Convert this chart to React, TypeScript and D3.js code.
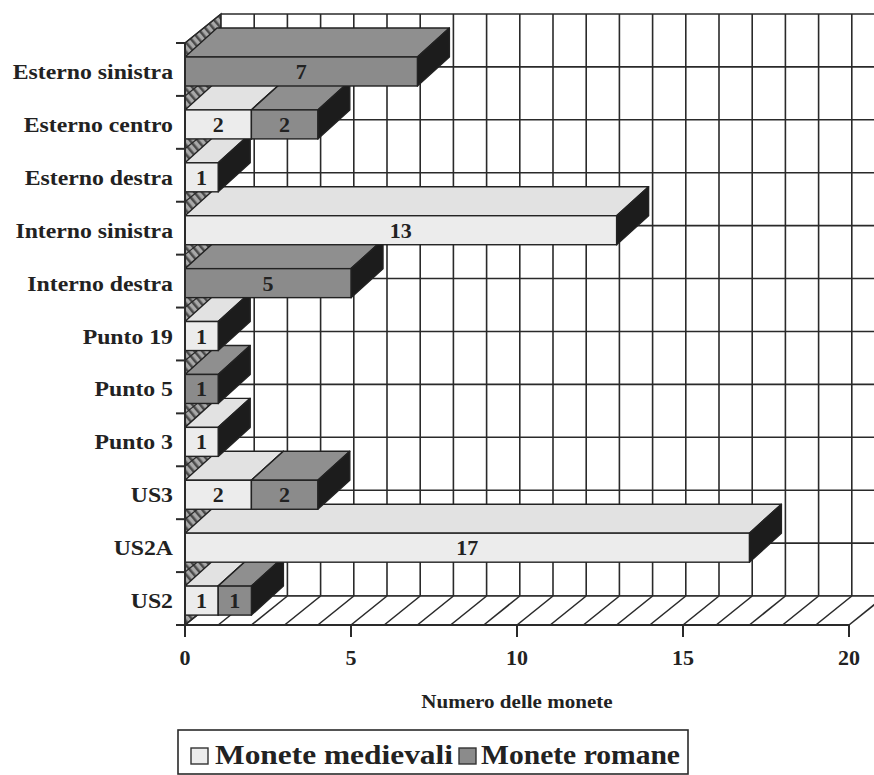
import { useEffect, useRef } from 'react';
import * as d3 from 'd3';

// categories top -> bottom, as in the picture
const categories = [
  'Esterno sinistra',
  'Esterno centro',
  'Esterno destra',
  'Interno sinistra',
  'Interno destra',
  'Punto 19',
  'Punto 5',
  'Punto 3',
  'US3',
  'US2A',
  'US2',
];
const medievali = [0, 2, 1, 13, 0, 1, 0, 1, 2, 17, 1];
const romane = [7, 2, 0, 0, 5, 0, 1, 0, 2, 0, 1];
const xTicks = [0, 5, 10, 15, 20];
const seriesNames = ['Monete medievali', 'Monete romane'];
const axisTitle = 'Numero delle monete';

const FONT = '"Liberation Serif", "Times New Roman", serif';

export default function App() {
  const svgRef = useRef<SVGSVGElement>(null);

  useEffect(() => {
    if (!svgRef.current) return;
    const width = 874;
    const height = 775;

    const svg = d3.select(svgRef.current);
    svg.selectAll('*').remove();
    svg.attr('width', width).attr('height', height).attr('viewBox', `0 0 ${width} ${height}`);

    const x = d3.scaleLinear().domain([0, 20]).range([185, 849]);
    const y = d3.scaleBand<string>().domain(categories).range([43, 625]).padding(0);
    const floorY = 625;
    const topY = 43;
    const wall = { dx: 36, dy: 29 };
    const bar = { dx: 32, dy: 29, off: 14, h: 29 };

    const fills = {
      med: { front: '#ececec', top: '#e2e2e2', side: '#1c1c1c' },
      rom: { front: '#8b8b8b', top: '#8f8f8f', side: '#1c1c1c' },
    };

    const defs = svg.append('defs');
    const hatch = defs
      .append('pattern')
      .attr('id', 'wallHatch')
      .attr('patternUnits', 'userSpaceOnUse')
      .attr('width', 6)
      .attr('height', 6)
      .attr('patternTransform', 'rotate(-40)');
    hatch.append('rect').attr('width', 6).attr('height', 6).attr('fill', '#a8a8a8');
    hatch.append('rect').attr('width', 2.5).attr('height', 6).attr('fill', '#4a4a4a');

    const line = (g: d3.Selection<SVGGElement, unknown, null, undefined>, x1: number, y1: number, x2: number, y2: number, w = 1.6) =>
      g.append('line').attr('x1', x1).attr('y1', y1).attr('x2', x2).attr('y2', y2)
        .attr('stroke', '#2a2a2a').attr('stroke-width', w);

    const frame = svg.append('g');
    const backTop = topY - wall.dy;
    const backBottom = floorY - wall.dy;
    const backLeft = x(0) + wall.dx;
    const backRight = x(20) + wall.dx;

    // left wall
    frame.append('polygon')
      .attr('points', [[x(0), topY], [backLeft, backTop], [backLeft, backBottom], [x(0), floorY]].map(p => p.join(',')).join(' '))
      .attr('fill', 'url(#wallHatch)')
      .attr('stroke', '#2a2a2a').attr('stroke-width', 1.4);

    // back wall
    frame.append('rect')
      .attr('x', backLeft).attr('y', backTop)
      .attr('width', backRight - backLeft).attr('height', backBottom - backTop)
      .attr('fill', '#fff');
    d3.range(0, 21).forEach(v => line(frame, x(v) + wall.dx, backTop, x(v) + wall.dx, backBottom));
    d3.range(0, categories.length + 1).forEach(k => {
      const yb = topY + k * y.bandwidth() - wall.dy;
      line(frame, backLeft, yb, backRight, yb);
    });

    // floor
    frame.append('polygon')
      .attr('points', [[x(0), floorY], [x(20), floorY], [backRight, backBottom], [backLeft, backBottom]].map(p => p.join(',')).join(' '))
      .attr('fill', '#fff');
    d3.range(0, 21).forEach(v => line(frame, x(v), floorY, x(v) + wall.dx, backBottom));
    line(frame, x(0), floorY, x(20), floorY, 2);
    line(frame, backLeft, backBottom, backRight, backBottom);

    // left wall separators
    d3.range(0, categories.length + 1).forEach(k => {
      const yb = topY + k * y.bandwidth();
      line(frame, x(0), yb, backLeft, yb - wall.dy, 1.2);
    });

    // bars, bottom category first so upper bars overlap
    const bars = svg.append('g');
    const rows = categories.map((c, i) => ({ c, med: medievali[i], rom: romane[i] })).reverse();
    rows.forEach(r => {
      const segs = [
        { key: 'med' as const, v0: 0, v1: r.med },
        { key: 'rom' as const, v0: r.med, v1: r.med + r.rom },
      ].filter(s => s.v1 > s.v0);
      const y0 = (y(r.c) ?? 0) + bar.off;
      const y1 = y0 + bar.h;
      segs.forEach(s => {
        const x0 = x(s.v0);
        const x1 = x(s.v1);
        const f = fills[s.key];
        const pts = (p: number[][]) => p.map(q => q.join(',')).join(' ');
        bars.append('polygon')
          .attr('points', pts([[x0, y0], [x1, y0], [x1 + bar.dx, y0 - bar.dy], [x0 + bar.dx, y0 - bar.dy]]))
          .attr('fill', f.top).attr('stroke', '#222').attr('stroke-width', 1.4).attr('stroke-linejoin', 'round');
        bars.append('polygon')
          .attr('points', pts([[x1, y0], [x1 + bar.dx, y0 - bar.dy], [x1 + bar.dx, y1 - bar.dy], [x1, y1]]))
          .attr('fill', f.side).attr('stroke', '#222').attr('stroke-width', 1.4).attr('stroke-linejoin', 'round');
        bars.append('rect')
          .attr('x', x0).attr('y', y0).attr('width', x1 - x0).attr('height', bar.h)
          .attr('fill', f.front).attr('stroke', '#222').attr('stroke-width', 1.4);
        bars.append('text')
          .attr('x', (x0 + x1) / 2).attr('y', y0 + bar.h / 2 + 7.5)
          .attr('text-anchor', 'middle')
          .attr('font-family', FONT).attr('font-weight', 'bold').attr('font-size', 22)
          .attr('fill', '#222')
          .text(s.v1 - s.v0);
      });
    });

    // front axes
    const axes = svg.append('g');
    line(axes, x(0), topY, x(0), floorY, 2);
    d3.range(0, categories.length + 1).forEach(k => {
      const yb = topY + k * y.bandwidth();
      line(axes, x(0) - 9, yb, x(0), yb, 2);
    });
    xTicks.forEach(t => {
      line(axes, x(t), floorY, x(t), floorY + 12, 2);
      axes.append('text')
        .attr('x', x(t)).attr('y', 665)
        .attr('text-anchor', 'middle')
        .attr('font-family', FONT).attr('font-weight', 'bold').attr('font-size', 22)
        .attr('fill', '#222')
        .text(t);
    });

    categories.forEach(c => {
      axes.append('text')
        .attr('transform', `translate(173,${(y(c) ?? 0) + 36}) scale(1.08,1)`)
        .attr('text-anchor', 'end')
        .attr('font-family', FONT).attr('font-weight', 'bold').attr('font-size', 22)
        .attr('fill', '#222')
        .text(c);
    });

    axes.append('text')
      .attr('transform', `translate(${x(10)},708) scale(1.08,1)`)
      .attr('text-anchor', 'middle')
      .attr('font-family', FONT).attr('font-weight', 'bold').attr('font-size', 19.5)
      .attr('fill', '#222')
      .text(axisTitle);

    // legend
    const legend = svg.append('g');
    legend.append('rect')
      .attr('x', 178).attr('y', 730).attr('width', 510).attr('height', 44)
      .attr('fill', '#fff').attr('stroke', '#2a2a2a').attr('stroke-width', 1.6);
    const items = [
      { name: seriesNames[0], fill: fills.med.front, sx: 191, tx: 215, tw: 238 },
      { name: seriesNames[1], fill: fills.rom.front, sx: 459, tx: 481, tw: 199 },
    ];
    items.forEach(it => {
      legend.append('rect')
        .attr('x', it.sx).attr('y', 748).attr('width', 17).attr('height', 16)
        .attr('fill', it.fill).attr('stroke', '#333').attr('stroke-width', 1.4);
      legend.append('text')
        .attr('x', it.tx).attr('y', 764)
        .attr('textLength', it.tw).attr('lengthAdjust', 'spacingAndGlyphs')
        .attr('font-family', FONT).attr('font-weight', 'bold').attr('font-size', 26.5)
        .attr('fill', '#222')
        .text(it.name);
    });
  }, []);

  return (
    <svg ref={svgRef} style={{ position: 'absolute', left: 0, top: 0, background: '#fff' }} />
  );
}
